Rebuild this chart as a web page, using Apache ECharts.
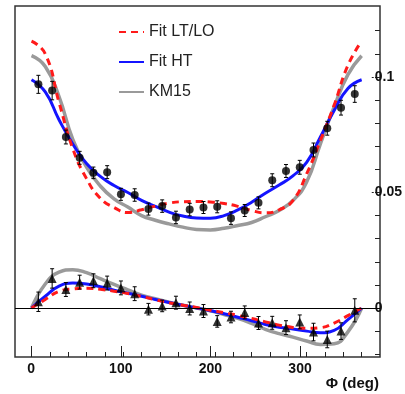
<!DOCTYPE html>
<html>
<head>
<meta charset="utf-8">
<script src="https://cdn.jsdelivr.net/npm/echarts@6/dist/echarts.min.js"></script>
<style>
  html, body { margin: 0; padding: 0; background: #fff; }
  #chart { width: 405px; height: 394px; }
</style>
</head>
<body>
<div id="chart"></div>
<script>
// measured bins (deg)
const phiBins = [7.5, 22.5, 37.5, 52.5, 67.5, 82.5, 97.5, 112.5, 127.5, 142.5, 157.5, 172.5,
  187.5, 202.5, 217.5, 232.5, 247.5, 262.5, 277.5, 292.5, 307.5, 322.5, 337.5, 352.5];
const upperVals = [0.0968, 0.0941, 0.0740, 0.0650, 0.0585, 0.0588, 0.0492, 0.0489, 0.0428, 0.0441, 0.0392, 0.0426,
  0.0435, 0.0438, 0.0389, 0.0422, 0.0455, 0.0553, 0.0593, 0.0609, 0.0684, 0.0778, 0.0867, 0.0926];
const upperErr = [0.0039, 0.0040, 0.0030, 0.0028, 0.0025, 0.0028, 0.0026, 0.0027, 0.0026, 0.0027, 0.0027, 0.0027,
  0.0026, 0.0026, 0.0027, 0.0026, 0.0026, 0.0028, 0.0028, 0.0030, 0.0030, 0.0030, 0.0032, 0.0036];
const lowerVals = [0.0027, 0.0128, 0.0080, 0.0112, 0.0118, 0.0108, 0.0087, 0.0062, -0.0005, 0.0009, 0.0023, -0.0002,
  -0.0013, -0.0058, -0.0039, -0.0019, -0.0065, -0.0064, -0.0085, -0.0060, -0.0104, -0.0136, -0.0100, -0.0010];
const lowerErr = [0.0042, 0.0042, 0.0030, 0.0030, 0.0030, 0.0030, 0.0030, 0.0030, 0.0025, 0.0025, 0.0028, 0.0028,
  0.0028, 0.0025, 0.0025, 0.0028, 0.0028, 0.0028, 0.0030, 0.0030, 0.0038, 0.0036, 0.0036, 0.0050];

// fit curves
const curvePhi = [0, 15, 30, 45, 60, 75, 90, 105, 120, 135, 150, 165, 180, 195, 210, 225, 240, 255, 270, 285, 300, 315, 330, 345, 360];
const fitLtLoUpper = [0.1155, 0.1100, 0.0890, 0.0690, 0.0560, 0.0475, 0.0435, 0.0413, 0.0425, 0.0441, 0.0454, 0.0460,
  0.0461, 0.0459, 0.0452, 0.0440, 0.0422, 0.0412, 0.0425, 0.0465, 0.0580, 0.0725, 0.0878, 0.1050, 0.1155];
const fitLtLoLower = [0, 0.0037, 0.0072, 0.0083, 0.0086, 0.0081, 0.0073, 0.0063, 0.0050, 0.0036, 0.0023, 0.0012,
  0.0002, -0.0010, -0.0020, -0.0032, -0.0045, -0.0060, -0.0074, -0.0084, -0.0088, -0.0085, -0.0065, -0.0033, 0];
const fitHtUpper = [0.0988, 0.0935, 0.0815, 0.0710, 0.0625, 0.0570, 0.0530, 0.0500, 0.0466, 0.0440, 0.0415, 0.0398,
  0.0390, 0.0389, 0.0400, 0.0425, 0.0458, 0.0497, 0.0532, 0.0572, 0.0630, 0.0740, 0.0855, 0.0950, 0.0988];
const fitHtLower = [0, 0.0051, 0.0095, 0.0108, 0.0104, 0.0092, 0.0077, 0.0064, 0.0051, 0.0037, 0.0024, 0.0012,
  0.0000, -0.0012, -0.0025, -0.0040, -0.0055, -0.0071, -0.0083, -0.0091, -0.0100, -0.0107, -0.0097, -0.0050, 0];
const km15Upper = [0.1092, 0.1045, 0.0915, 0.0730, 0.0610, 0.0528, 0.0472, 0.0437, 0.0400, 0.0380, 0.0364, 0.0350,
  0.0340, 0.0338, 0.0345, 0.0357, 0.0370, 0.0395, 0.0422, 0.0465, 0.0545, 0.0710, 0.0870, 0.1010, 0.1092];
const km15Lower = [0, 0.0104, 0.0155, 0.0166, 0.0153, 0.0127, 0.0102, 0.0079, 0.0056, 0.0040, 0.0025, 0.0012,
  0, -0.0012, -0.0028, -0.0045, -0.0067, -0.0092, -0.0111, -0.0126, -0.0143, -0.0158, -0.0155, -0.0103, 0];

const xMajorTicks = [0, 100, 200, 300];
const xMinorTicks = [0, 20, 40, 60, 80, 100, 120, 140, 160, 180, 200, 220, 240, 260, 280, 300, 320, 340, 360];
const yMajorTicks = [0, 0.05, 0.1];
const yMinorTicks = [-0.02, -0.01, 0, 0.01, 0.02, 0.03, 0.04, 0.05, 0.06, 0.07, 0.08, 0.09, 0.1, 0.11, 0.12];

const font = '"Liberation Sans", Arial, sans-serif';
const pairs = (xs, ys) => xs.map((x, i) => [x, ys[i]]);
const bars = (xs, ys, es) => xs.map((x, i) => [x, ys[i] - es[i], ys[i] + es[i]]);

function errorBar(params, api) {
  const x = api.value(0);
  const lo = api.coord([x, api.value(1)]);
  const hi = api.coord([x, api.value(2)]);
  const cap = 2;
  const style = { stroke: '#000', lineWidth: 1 };
  return {
    type: 'group',
    children: [
      { type: 'line', shape: { x1: lo[0], y1: lo[1], x2: hi[0], y2: hi[1] }, style },
      { type: 'line', shape: { x1: lo[0] - cap, y1: lo[1], x2: lo[0] + cap, y2: lo[1] }, style },
      { type: 'line', shape: { x1: hi[0] - cap, y1: hi[1], x2: hi[0] + cap, y2: hi[1] }, style }
    ]
  };
}

const red = { color: '#ff1a1a', width: 3, type: [7, 5] };
const blue = { color: '#1414ff', width: 3 };
const gray = { color: '#9a9a9a', width: 3.5 };

const gridBox = { left: 15, right: 25, top: 6, bottom: 37 };
const xRange = { min: -18, max: 380 };
const yRange = { min: -0.0212, max: 0.1307 };
const noLine = { show: false, onZero: false };

var myChart = echarts.init(document.getElementById('chart'));
var option = {
  animation: false,
  grid: [
    Object.assign({ show: true, borderColor: '#333', borderWidth: 1.5 }, gridBox),
    Object.assign({ show: false }, gridBox)
  ],
  legend: {
    data: ['Fit LT/LO', 'Fit HT', 'KM15'],
    orient: 'vertical',
    left: 113,
    top: 19,
    itemWidth: 25,
    itemHeight: 14,
    itemGap: 14,
    itemStyle: { opacity: 0 },
    textStyle: { fontFamily: font, fontSize: 16, color: '#222', lineHeight: 16 }
  },
  xAxis: [
    Object.assign({
      type: 'value', gridIndex: 0, position: 'bottom',
      axisLine: noLine, splitLine: { show: false },
      axisTick: { show: true, inside: true, length: 5, customValues: xMinorTicks, lineStyle: { color: '#222' } },
      axisLabel: { show: false }
    }, xRange),
    Object.assign({
      type: 'value', gridIndex: 1, position: 'bottom',
      axisLine: noLine, splitLine: { show: false },
      axisTick: { show: true, inside: true, length: 11, customValues: xMajorTicks, lineStyle: { color: '#222' } },
      axisLabel: { customValues: xMajorTicks, margin: 5, fontFamily: font, fontSize: 14, fontWeight: 'bold', color: '#111' }
    }, xRange)
  ],
  yAxis: [
    Object.assign({
      type: 'value', gridIndex: 0, position: 'right',
      axisLine: noLine, splitLine: { show: false },
      axisTick: { show: true, inside: true, length: 5, customValues: yMinorTicks, lineStyle: { color: '#222' } },
      axisLabel: { show: false }
    }, yRange),
    Object.assign({
      type: 'value', gridIndex: 1, position: 'right',
      axisLine: noLine, splitLine: { show: false },
      axisTick: { show: true, inside: false, length: 2, customValues: yMajorTicks, lineStyle: { color: '#222' } },
      axisLabel: { customValues: yMajorTicks, margin: 3, fontFamily: font, fontSize: 14, fontWeight: 'bold', color: '#111' }
    }, yRange)
  ],
  graphic: [
    { type: 'text', right: 26, top: 376, style: { text: 'Φ (deg)', font: 'bold 15px ' + font, fill: '#111' } }
  ],
  series: [
    {
      name: 'KM15', type: 'line', smooth: true, symbol: 'none', z: 2,
      data: pairs(curvePhi, km15Upper), lineStyle: gray, itemStyle: { color: gray.color },
      markLine: {
        silent: true, symbol: ['none', 'none'], label: { show: false },
        lineStyle: { color: '#000', width: 1, type: 'solid' },
        data: [{ yAxis: 0 }]
      }
    },
    { name: 'KM15', type: 'line', smooth: true, symbol: 'none', z: 2, data: pairs(curvePhi, km15Lower), lineStyle: gray, itemStyle: { color: gray.color } },
    { name: 'Fit HT', type: 'line', smooth: true, symbol: 'none', z: 3, data: pairs(curvePhi, fitHtUpper), lineStyle: blue, itemStyle: { color: blue.color } },
    { name: 'Fit HT', type: 'line', smooth: true, symbol: 'none', z: 3, data: pairs(curvePhi, fitHtLower), lineStyle: blue, itemStyle: { color: blue.color } },
    { name: 'Fit LT/LO', type: 'line', smooth: true, symbol: 'none', z: 4, data: pairs(curvePhi, fitLtLoUpper), lineStyle: red, itemStyle: { color: red.color } },
    { name: 'Fit LT/LO', type: 'line', smooth: true, symbol: 'none', z: 4, data: pairs(curvePhi, fitLtLoLower), lineStyle: red, itemStyle: { color: red.color } },
    { type: 'custom', renderItem: errorBar, z: 5, encode: { x: 0, y: [1, 2] }, data: bars(phiBins, upperVals, upperErr) },
    { type: 'custom', renderItem: errorBar, z: 5, encode: { x: 0, y: [1, 2] }, data: bars(phiBins, lowerVals, lowerErr) },
    { type: 'scatter', symbol: 'circle', symbolSize: 8, z: 6, itemStyle: { color: '#000' }, data: pairs(phiBins, upperVals) },
    { type: 'scatter', symbol: 'triangle', symbolSize: 9, z: 6, itemStyle: { color: '#000' }, data: pairs(phiBins, lowerVals) }
  ]
};
myChart.setOption(option);
</script>
</body>
</html>
